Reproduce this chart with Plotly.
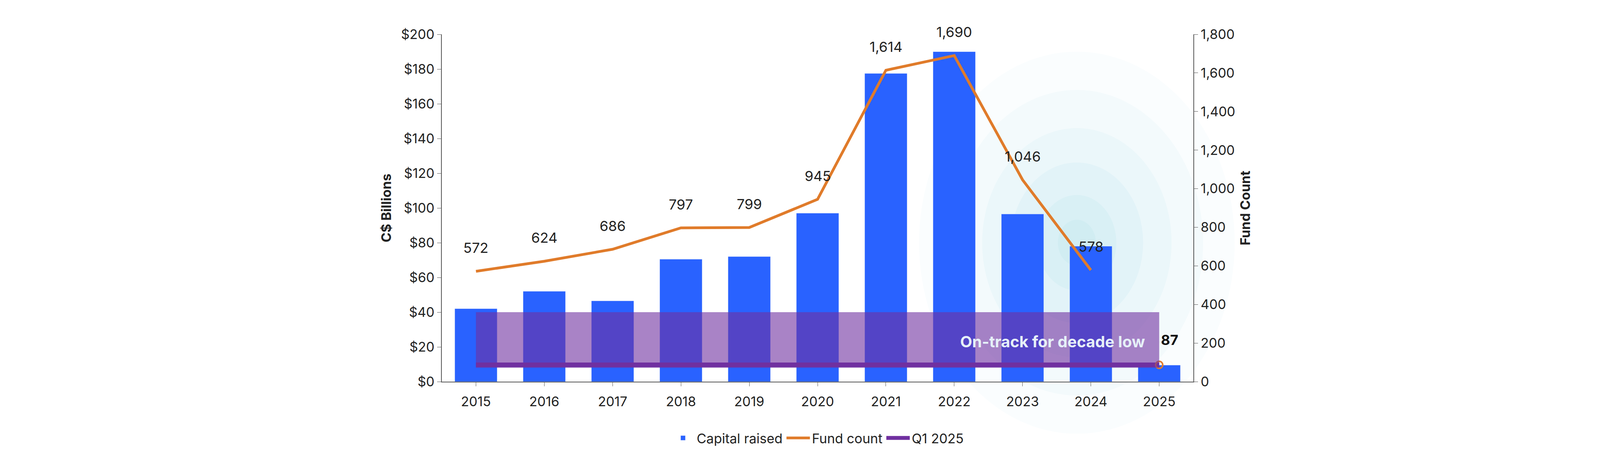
import plotly.graph_objects as go

years = [2015, 2016, 2017, 2018, 2019, 2020, 2021, 2022, 2023, 2024, 2025]
capital = [42, 52, 46.5, 70.5, 72, 97, 177.5, 190, 96.5, 78, 9.5]
fund_years = years[:-1]
fund_count = [572, 624, 686, 797, 799, 945, 1614, 1690, 1046, 578]
q1_value = 87

fig = go.Figure()

# soft teal glow behind the right part of the chart (paper coords so it is not clipped)
for r, a in [(1.0, 0.04), (0.8, 0.05), (0.6, 0.06), (0.42, 0.07), (0.25, 0.08), (0.12, 0.08)]:
    fig.add_shape(type="circle", xref="paper", yref="paper", layer="below",
                  x0=0.845 - r * 0.21, x1=0.845 + r * 0.21, y0=0.40 - r * 0.55, y1=0.40 + r * 0.55,
                  fillcolor=f"rgba(120,200,220,{a})", line_width=0)

fig.add_trace(go.Bar(x=years, y=capital, name="Capital raised", marker_color="#2962FF",
                     width=0.62))
fig.add_trace(go.Scatter(x=fund_years, y=fund_count, name="Fund count", yaxis="y2",
                         mode="lines", line=dict(color="#E07B2A", width=7)))
fig.add_trace(go.Scatter(x=[2015, 2025], y=[q1_value, q1_value], name="Q1 2025", yaxis="y2",
                         mode="lines", line=dict(color="#7030A0", width=12)))
fig.add_trace(go.Scatter(x=[2025], y=[q1_value], yaxis="y2", mode="markers", showlegend=False,
                         marker=dict(size=18, color="rgba(0,0,0,0)",
                                     line=dict(color="#E07B2A", width=4))))

for x, v in zip(fund_years, fund_count):
    fig.add_annotation(x=x, y=v, xref="x", yref="y2", text=f"{v:,}", showarrow=False,
                       yshift=60, font=dict(size=36, color="#222"))

fig.add_shape(type="rect", xref="x", yref="y", x0=2015, x1=2025, y0=8, y1=40,
              fillcolor="rgba(112,48,160,0.6)", line_width=0, layer="above")
fig.add_annotation(x=2024.8, y=23, xref="x", yref="y", text="<b>On-track for decade low</b>",
                   showarrow=False, xanchor="right", font=dict(size=40, color="#E6F0F8"))
fig.add_annotation(x=2025.15, y=q1_value + 130, xref="x", yref="y2", text="<b>87</b>",
                   showarrow=False, font=dict(size=36, color="#111"))

fig.update_layout(
    width=4170, height=1166, plot_bgcolor="rgba(0,0,0,0)", paper_bgcolor="white",
    margin=dict(l=1123, r=1123, t=80, b=196),
    font=dict(family="Inter, Roboto, sans-serif", size=34, color="#222"),
    xaxis=dict(range=[2014.5, 2025.5], tickvals=years, showline=True, linecolor="#555",
               linewidth=2, ticks="outside", tickcolor="#555", ticklen=10, showgrid=False,
               ticklabelstandoff=10),
    yaxis=dict(range=[0, 200], dtick=20, tickprefix="$", showgrid=False, showline=True,
               linecolor="#555", linewidth=2, ticks="outside", tickcolor="#555", ticklen=10,
               title=dict(text="<b>C$ Billions</b>", font=dict(size=34))),
    yaxis2=dict(range=[0, 1800], dtick=200, tickformat=",", overlaying="y", side="right",
                showgrid=False, showline=True, linecolor="#555", linewidth=2, ticks="outside",
                tickcolor="#555", ticklen=10,
                title=dict(text="<b>Fund Count</b>", font=dict(size=34))),
    legend=dict(orientation="h", x=0.5, xanchor="center", y=-0.13, yanchor="top",
                font=dict(size=34), itemwidth=60),
)

fig.write_html("out.html")
